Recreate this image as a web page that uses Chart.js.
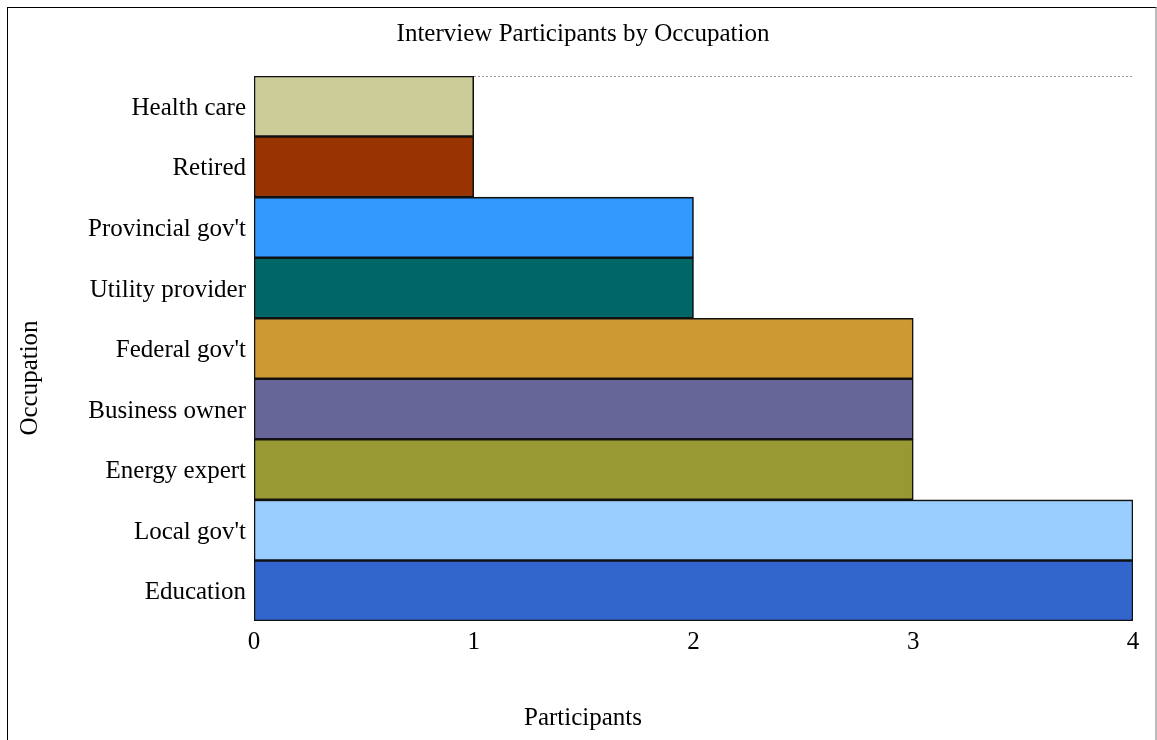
<!DOCTYPE html>
<html>
<head>
<meta charset="utf-8">
<title>Interview Participants by Occupation</title>
<script src="https://cdn.jsdelivr.net/npm/chart.js@4/dist/chart.umd.min.js"></script>
<style>
  html, body { margin: 0; padding: 0; background: #fff; overflow: hidden; }
  #wrap { position: relative; width: 1157px; height: 740px; }
  #frame {
    position: absolute; left: 7px; top: 7px; width: 1147px; height: 760px;
    border-left: 1px solid #000; border-top: 1px solid #000; border-right: 2px solid #bbb;
    pointer-events: none;
  }
  canvas { position: absolute; left: 0; top: 0; }
</style>
</head>
<body>
<div id="wrap">
  <canvas id="chart" width="1157" height="740"></canvas>
  <div id="frame"></div>
</div>
<script>
// Occupation categories, top to bottom
const occupations = [
  "Health care", "Retired", "Provincial gov't", "Utility provider",
  "Federal gov't", "Business owner", "Energy expert", "Local gov't", "Education"
];
// Number of participants per occupation
const participants = [1, 1, 2, 2, 3, 3, 3, 4, 4];
// Fill colour per occupation
const barColors = [
  "#CCCC99", "#993300", "#3399FF", "#006666",
  "#CC9933", "#666699", "#999933", "#99CCFF", "#3366CC"
];
const xTickValues = [0, 1, 2, 3, 4];

const chartTitle = "Interview Participants by Occupation";
const xAxisTitle = "Participants";
const yAxisTitle = "Occupation";

const serif = "'Liberation Serif', 'Times New Roman', serif";
const textSize = 25;

// Titles are centred on the whole figure rather than on the plot area
const figureTitles = {
  id: "figureTitles",
  afterDraw(chart) {
    const ctx = chart.ctx;
    const cx = 583, cy = 378;
    ctx.save();
    ctx.fillStyle = "#000";
    ctx.font = textSize + "px " + serif;
    ctx.textAlign = "center";
    ctx.textBaseline = "middle";
    ctx.fillText(chartTitle, cx, 34);
    ctx.fillText(xAxisTitle, cx, 718);
    ctx.translate(30, cy);
    ctx.rotate(-Math.PI / 2);
    ctx.fillText(yAxisTitle, 0, 0);
    ctx.restore();
  }
};

new Chart(document.getElementById("chart"), {
  type: "bar",
  data: {
    labels: occupations,
    datasets: [{
      data: participants,
      backgroundColor: barColors,
      borderColor: "#111",
      borderWidth: 1.6,
      borderSkipped: false,
      barPercentage: 1,
      categoryPercentage: 1
    }]
  },
  plugins: [figureTitles],
  options: {
    indexAxis: "y",
    responsive: false,
    animation: false,
    layout: { padding: { left: 0, right: 24, top: 76, bottom: 0 } },
    plugins: {
      legend: { display: false },
      tooltip: { enabled: false },
      title: { display: false }
    },
    scales: {
      x: {
        type: "linear",
        min: 0,
        max: 4,
        afterBuildTicks: (scale) => { scale.ticks = xTickValues.map(v => ({ value: v })); },
        afterFit: (scale) => { scale.height = 119; },
        grid: { display: false, drawTicks: false },
        border: { display: false },
        ticks: {
          color: "#000",
          padding: 6,
          maxRotation: 0,
          font: { family: serif, size: textSize }
        },
        title: { display: false }
      },
      y: {
        type: "category",
        afterFit: (scale) => { scale.width = 254; },
        grid: {
          drawTicks: false,
          color: (ctx) => ctx.index === 0 ? "#999" : "rgba(0,0,0,0)",
          lineWidth: 1
        },
        border: { display: false, dash: [2, 2] },
        ticks: {
          color: "#000",
          padding: 8,
          labelOffset: 2,
          font: { family: serif, size: textSize }
        },
        title: { display: false }
      }
    }
  }
});
</script>
</body>
</html>
